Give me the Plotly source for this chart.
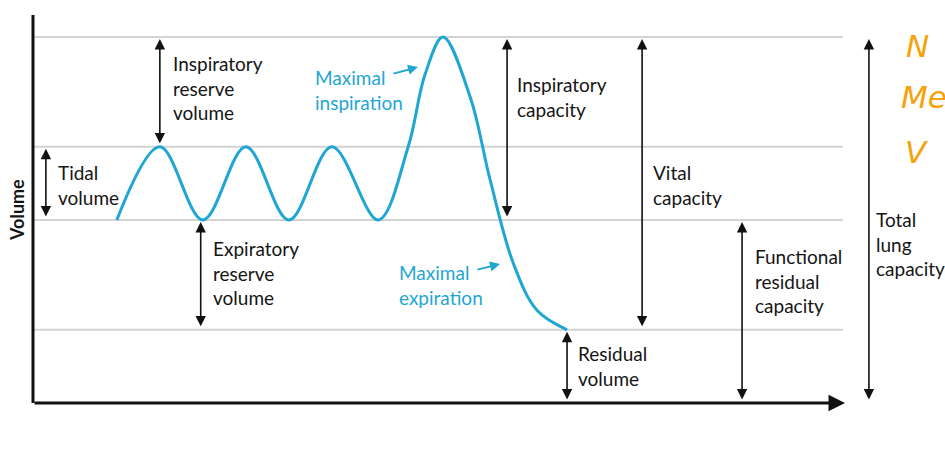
import plotly.graph_objects as go

# ---------------- data ----------------
# lung volume levels (L)
RV_LEVEL = 1.2      # residual volume level
FRC_LEVEL = 3.0     # end of tidal expiration
TIDAL_TOP = 4.2     # end of tidal inspiration
TLC_LEVEL = 6.0     # total lung capacity
levels = [TLC_LEVEL, TIDAL_TOP, FRC_LEVEL, RV_LEVEL]

# spirometer trace (time s, volume L)
trace_t = [3.9, 5.9, 7.9, 9.9, 11.9, 13.9, 16.05, 17.45, 18.23, 19.07,
           20.33, 21.26, 22.33, 23.44, 24.84]
trace_v = [3.0, 4.2, 3.0, 4.2, 3.0, 4.2, 3.0, 4.2, 5.38, 6.0,
           5.02, 3.66, 2.30, 1.52, 1.2]

# volume / capacity brackets: (time, from, to)
brackets = {
    "Inspiratory reserve volume": (5.9, TIDAL_TOP, TLC_LEVEL),
    "Tidal volume": (0.6, FRC_LEVEL, TIDAL_TOP),
    "Expiratory reserve volume": (7.8, RV_LEVEL, FRC_LEVEL),
    "Inspiratory capacity": (22.05, FRC_LEVEL, TLC_LEVEL),
    "Vital capacity": (28.33, RV_LEVEL, TLC_LEVEL),
    "Residual volume": (24.84, 0.0, RV_LEVEL),
    "Functional residual capacity": (32.98, 0.0, FRC_LEVEL),
    "Total lung capacity": (38.88, 0.0, TLC_LEVEL),
}

# ---------------- layout helpers ----------------
W, H = 945, 453
PX_PER_S = 21.5
PX_PER_L = 61.0
X0_PX, Y0_PX = 33, 403
x_range = [-X0_PX / PX_PER_S, (W - X0_PX) / PX_PER_S]
y_range = [-(H - Y0_PX) / PX_PER_L, Y0_PX / PX_PER_L]

BLUE = "#1fa6d4"
INK = "#151515"
FONT = "Lato"


def px_x(px):
    return (px - X0_PX) / PX_PER_S


def px_y(py):
    return (Y0_PX - py) / PX_PER_L


fig = go.Figure()

# grey level lines
for lv in levels:
    fig.add_shape(type="line", x0=px_x(33), x1=px_x(843), y0=lv, y1=lv,
                  line=dict(color="#d3d3d3", width=2), layer="below")

# breathing curve
fig.add_trace(go.Scatter(x=trace_t, y=trace_v, mode="lines",
                         line=dict(color=BLUE, width=3, shape="spline", smoothing=1.0),
                         hoverinfo="skip", showlegend=False))

# axes
fig.add_shape(type="line", x0=0, x1=0, y0=0, y1=px_y(15),
              line=dict(color="#111", width=3))
fig.add_annotation(x=px_x(845), y=0, ax=0, ay=0, axref="x", ayref="y",
                   xref="x", yref="y", text="", showarrow=True,
                   arrowhead=2, arrowsize=1.1, arrowwidth=3, arrowcolor="#111",
                   standoff=0, startstandoff=0)

# double arrows
for name, (t, v0, v1) in brackets.items():
    fig.add_annotation(x=t, y=v1, ax=t, ay=v0, axref="x", ayref="y",
                       xref="x", yref="y", text="", showarrow=True,
                       arrowhead=2, startarrowhead=2, arrowside="end+start",
                       arrowsize=1.3, startarrowsize=1.3, arrowwidth=1.6,
                       arrowcolor="#111", standoff=2, startstandoff=2)

# text labels (pixel positions of left edge, first line centre)
labels = [
    ("Inspiratory<br>reserve<br>volume", 171, 63, INK),
    ("Tidal<br>volume", 56, 172, INK),
    ("Expiratory<br>reserve<br>volume", 211, 248, INK),
    ("Inspiratory<br>capacity", 515, 84, INK),
    ("Vital<br>capacity", 651, 172, INK),
    ("Residual<br>volume", 576, 353, INK),
    ("Functional<br>residual<br>capacity", 753, 256, INK),
    ("Total<br>lung<br>capacity", 874, 219, INK),
    ("Maximal<br>inspiration", 313, 77, BLUE),
    ("Maximal<br>expiration", 397, 272, BLUE),
]
for txt, lx, ly, col in labels:
    fig.add_annotation(x=lx / W, y=1 - (ly - 13) / H, xref="paper", yref="paper",
                       xanchor="left", yanchor="top", align="left", text=txt,
                       showarrow=False, font=dict(family=FONT, size=19, color=col))

# small blue pointer arrows
fig.add_annotation(x=px_x(418), y=px_y(67), ax=px_x(392), ay=px_y(74),
                   axref="x", ayref="y", xref="x", yref="y", text="", showarrow=True,
                   arrowhead=2, arrowsize=1.0, arrowwidth=2, arrowcolor=BLUE)
fig.add_annotation(x=px_x(500), y=px_y(264), ax=px_x(476), ay=px_y(270),
                   axref="x", ayref="y", xref="x", yref="y", text="", showarrow=True,
                   arrowhead=2, arrowsize=1.0, arrowwidth=2, arrowcolor=BLUE)

# axis title
fig.add_annotation(x=17 / W, y=1 - 210 / H, xref="paper", yref="paper",
                   xanchor="center", yanchor="middle",
                   text="<b>Volume</b>", textangle=-90, showarrow=False,
                   font=dict(family=FONT, size=18, color=INK))

# handwritten notes
for txt, lx, ly in [("N", 904, 46), ("Me", 899, 97), ("V", 903, 152)]:
    fig.add_annotation(x=lx / W, y=1 - ly / H, xref="paper", yref="paper",
                       xanchor="left", yanchor="middle", text=txt, showarrow=False,
                       font=dict(family="DejaVu Sans", size=31, color="#f5a20a",
                                 weight=200, style="italic"))

fig.update_layout(
    width=W, height=H, margin=dict(l=0, r=0, t=0, b=0),
    paper_bgcolor="white", plot_bgcolor="white",
    xaxis=dict(range=x_range, visible=False, fixedrange=True),
    yaxis=dict(range=y_range, visible=False, fixedrange=True),
    showlegend=False,
)

fig.write_html("out.html", config={"displayModeBar": False},
               post_script="document.body.style.margin='0';document.body.style.overflow='hidden';")
